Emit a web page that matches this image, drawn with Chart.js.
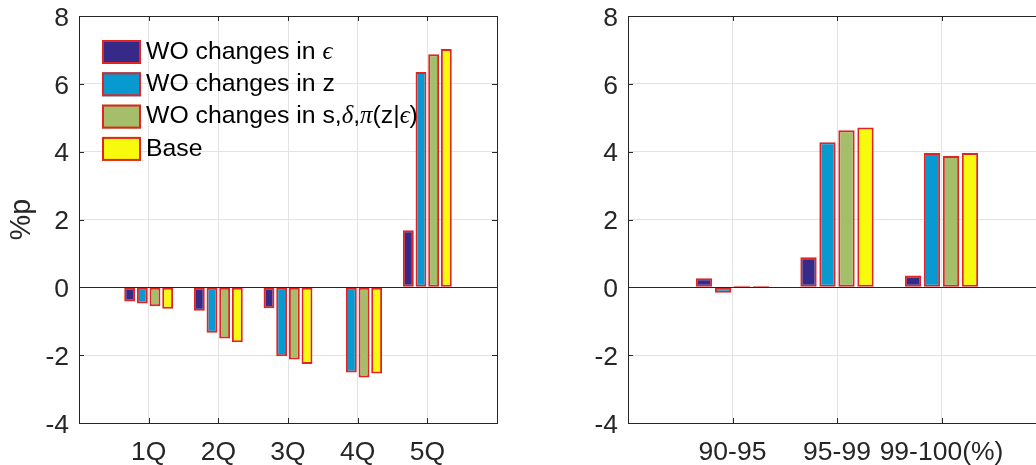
<!DOCTYPE html>
<html>
<head>
<meta charset="utf-8">
<script src="https://cdn.jsdelivr.net/npm/chart.js@4"></script>
<style>
  html, body { margin: 0; padding: 0; background: #fff; overflow: hidden; width: 1036px; height: 465px; }
  #left { position: absolute; left: 0; top: 0; }
  #right { position: absolute; left: 540px; top: 0; }
</style>
</head>
<body>
<canvas id="left" width="520" height="465"></canvas>
<canvas id="right" width="540" height="465"></canvas>
<script>
// legend / series
const seriesNames = ['WO changes in ϵ', 'WO changes in z', 'WO changes in s,δ,π(z|ϵ)', 'Base'];
const seriesColors = ['#352a87', '#0899d0', '#a5be6a', '#f8fa0d'];

// left panel: quintiles
const quintiles = ['1Q', '2Q', '3Q', '4Q', '5Q'];
const qNoEps   = [-0.42, -0.69, -0.62, 0.02, 1.68];
const qNoZ     = [-0.48, -1.34, -2.03, -2.51, 6.35];
const qNoOther = [-0.56, -1.51, -2.13, -2.66, 6.87];
const qBase    = [-0.63, -1.62, -2.26, -2.54, 7.03];

// right panel: top percentiles
const topGroups = ['90-95', '95-99', '99-100(%)'];
const tNoEps   = [0.27, 0.89, 0.35];
const tNoZ     = [-0.16, 4.28, 3.96];
const tNoOther = [0.05, 4.63, 3.87];
const tBase    = [0.04, 4.71, 3.96];

// y axis
const yMin = -4, yMax = 8, yStep = 2;

const AXIS = '#262626';
const GRID = '#e3e3e3';
const EDGE = '#e02424';
const SANS = '"Liberation Sans", Arial, sans-serif';
const GREEK = /([δπϵ])/;

// empty slot on each side, like the matlab xlim
function padded(arr, fill) {
    return [fill, ...arr, fill];
}

// axis box, zero line, inward ticks and the in-plot legend
const framePlugin = {
    id: 'frame',
    afterDatasetsDraw(chart, args, opts) {
        const ctx = chart.ctx;
        const a = chart.chartArea;
        const x = chart.scales.x, y = chart.scales.y;
        ctx.save();
        ctx.strokeStyle = AXIS;
        ctx.lineWidth = 1;

        // baseline
        const y0 = Math.round(y.getPixelForValue(0)) + 0.5;
        ctx.beginPath();
        ctx.moveTo(a.left, y0);
        ctx.lineTo(a.right, y0);
        ctx.stroke();

        // box
        ctx.strokeRect(Math.round(a.left) + 0.5, Math.round(a.top) + 0.5,
            Math.round(a.right - a.left), Math.round(a.bottom - a.top));

        // ticks pointing in
        ctx.beginPath();
        y.ticks.forEach(t => {
            const py = Math.round(y.getPixelForValue(t.value)) + 0.5;
            ctx.moveTo(a.left, py); ctx.lineTo(a.left + 5, py);
            ctx.moveTo(a.right, py); ctx.lineTo(a.right - 5, py);
        });
        chart.data.labels.forEach((lab, i) => {
            if (!lab) return;
            const px = Math.round(x.getPixelForValue(i)) + 0.5;
            ctx.moveTo(px, a.bottom); ctx.lineTo(px, a.bottom - 5);
            ctx.moveTo(px, a.top); ctx.lineTo(px, a.top + 5);
        });
        ctx.stroke();

        if (opts.legend) drawLegend(chart);
        ctx.restore();
    }
};

function drawLegend(chart) {
    const ctx = chart.ctx;
    const a = chart.chartArea;
    const size = 24.8;
    const bx = a.left + 23, bw = 39, bh = 24, pitch = 32.3;
    let by = a.top + 24;
    chart.data.datasets.forEach(ds => {
        ctx.fillStyle = ds.backgroundColor;
        ctx.fillRect(bx, by, bw, bh);
        ctx.strokeStyle = EDGE;
        ctx.lineWidth = 2;
        ctx.strokeRect(bx + 1, by + 1, bw - 2, bh - 2);

        let tx = bx + bw + 5;
        const ty = by + bh / 2;
        ctx.fillStyle = '#000';
        ctx.textBaseline = 'middle';
        ctx.textAlign = 'left';
        ds.label.split(GREEK).forEach(part => {
            if (!part) return;
            ctx.font = GREEK.test(part)
                ? `italic ${size}px "Liberation Serif", "DejaVu Serif", serif`
                : `${size}px ${SANS}`;
            ctx.fillText(part, tx, ty);
            tx += ctx.measureText(part).width;
        });
        by += pitch;
    });
}

function makeChart(id, categories, series, layout) {
    const labels = padded(categories, '');
    const datasets = series.map((vals, i) => ({
        label: seriesNames[i],
        data: padded(vals, null),
        backgroundColor: seriesColors[i],
        borderColor: EDGE,
        borderWidth: 2,
        borderSkipped: false,
        categoryPercentage: 0.727,
        barPercentage: 0.86
    }));

    return new Chart(document.getElementById(id), {
        type: 'bar',
        data: { labels, datasets },
        plugins: [framePlugin],
        options: {
            responsive: false,
            animation: false,
            layout: { padding: { top: 16, right: layout.padRight, bottom: 0, left: 0 } },
            plugins: {
                legend: { display: false },
                tooltip: { enabled: false },
                frame: { legend: layout.legend }
            },
            scales: {
                x: {
                    offset: false,
                    grid: { color: GRID, drawTicks: false, offset: false },
                    border: { display: false },
                    ticks: {
                        autoSkip: false, maxRotation: 0, minRotation: 0,
                        padding: 14, color: AXIS,
                        font: { family: SANS, size: 26.5 }
                    },
                    afterFit: s => { s.height = 42; s.paddingLeft = 0; s.paddingRight = 0; }
                },
                y: {
                    min: yMin, max: yMax,
                    grid: { color: GRID, drawTicks: false },
                    border: { display: false },
                    ticks: {
                        stepSize: yStep, padding: 10, color: AXIS,
                        labelOffset: 2.5,
                        font: { family: SANS, size: 26.5 }
                    },
                    title: {
                        display: !!layout.yTitle,
                        text: layout.yTitle || '',
                        color: AXIS,
                        padding: { top: 5, bottom: 0 },
                        font: { family: SANS, size: 28.6 }
                    },
                    afterFit: s => {
                        s.width = layout.axisWidth;
                        s.paddingTop = 0;
                        s.paddingBottom = 0;
                    }
                }
            }
        }
    });
}

makeChart('left', quintiles, [qNoEps, qNoZ, qNoOther, qBase],
    { padRight: 23, axisWidth: 79, yTitle: '%p', legend: true });
makeChart('right', topGroups, [tNoEps, tNoZ, tNoOther, tBase],
    { padRight: 34, axisWidth: 88, legend: false });
</script>
</body>
</html>
